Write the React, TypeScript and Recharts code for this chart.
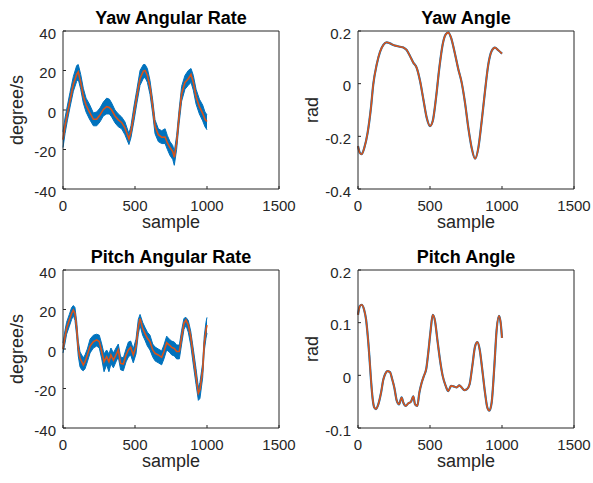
import { ComposedChart, Line, Area, XAxis, YAxis, Label } from "recharts";

// axis ticks
const X_TICKS = [0, 500, 1000, 1500];
const RATE_TICKS = [-40, -20, 0, 20, 40];
const YAW_ANGLE_TICKS = [-0.4, -0.2, 0, 0.2];
const PITCH_ANGLE_TICKS = [-0.1, 0, 0.1, 0.2];

// Yaw angular rate (degree/s): filtered line + raw signal envelope
const yawRateSamples = [0, 14, 30, 49, 72, 95, 106, 123, 141, 160, 183, 211, 234, 257, 280, 303, 322, 338, 361, 384, 407, 430, 458, 472, 493, 512, 535, 558, 570, 586, 604, 623, 639, 662, 685, 709, 725, 743, 762, 773, 789, 806, 824, 847, 870, 889, 905, 924, 947, 970, 986, 1000];
const yawRateFiltered = [-15, -8, -2, 5, 13, 18, 19.3, 14, 7, 2.5, -1, -4.7, -4.7, -2.5, 0.3, 1.7, 1.3, 0, -3, -5, -6.3, -9, -14.7, -11, -1.7, 6.7, 16, 19.7, 20, 17.5, 11.7, 1.7, -8.3, -12.5, -13.8, -13.7, -16.7, -19, -21, -24, -16.7, -3.3, 8.3, 14, 15.8, 18, 14, 6.7, 1.7, -1.7, -4.7, -5.8];
const yawRateRawHigh = [-11, -4, 2, 9, 17, 22.5, 23, 18, 11, 6, 3, -1.5, -1, 1, 4, 6, 5.5, 3.5, 0, -2, -3.5, -6, -12, -8, 2, 10, 20, 23, 23, 21, 15, 5, -5, -9.5, -10.5, -9.5, -13, -16, -18, -21, -13, 0, 12, 17.5, 20, 21, 17.5, 10.5, 5.5, 2.5, -1, -2.5];
const yawRateRawLow = [-19, -12, -5.5, 1.5, 9.5, 14.5, 15.5, 10.5, 3.5, -1, -4.5, -8, -8, -6, -3, -2, -2, -3.5, -6.5, -8.5, -9.5, -12.5, -17.5, -14, -5.5, 3, 12.5, 16, 16.5, 14, 8, -2, -12, -16, -17, -17, -20, -23, -25, -28, -20, -7, 4.5, 10.5, 12.5, 14, 10, 3, -2, -5.5, -8.5, -10];

// Yaw angle (rad)
const yawAngleSamples = [0, 12, 25, 44, 67, 90, 106, 130, 153, 176, 199, 222, 245, 269, 292, 315, 338, 361, 384, 407, 431, 454, 477, 500, 519, 542, 565, 588, 609, 627, 646, 669, 697, 720, 743, 766, 789, 813, 836, 859, 882, 905, 928, 951, 974, 1000];
const yawAngle = [-0.237, -0.262, -0.268, -0.243, -0.186, -0.091, -0.003, 0.073, 0.121, 0.147, 0.157, 0.153, 0.147, 0.143, 0.14, 0.137, 0.128, 0.105, 0.08, 0.061, 0.01, -0.06, -0.129, -0.161, -0.142, -0.053, 0.061, 0.149, 0.187, 0.194, 0.175, 0.124, 0.054, 0.004, -0.072, -0.167, -0.243, -0.285, -0.243, -0.142, -0.028, 0.073, 0.124, 0.137, 0.127, 0.114];

// Pitch angular rate (degree/s)
const pitchRateSamples = [0, 14, 25, 44, 60, 72, 83, 95, 106, 118, 130, 141, 153, 169, 188, 211, 234, 252, 269, 285, 303, 319, 333, 350, 368, 384, 400, 419, 438, 454, 470, 488, 507, 523, 535, 553, 569, 586, 604, 623, 639, 662, 685, 701, 720, 738, 755, 773, 789, 808, 824, 840, 854, 870, 887, 905, 924, 940, 951, 970, 981, 993, 1000];
const pitchRateFiltered = [0, 6.2, 10.5, 14.7, 18, 19.7, 18, 10.5, 0.3, -4.7, -6.4, -8.1, -6.4, -3, 1.5, 3.7, 4.6, 3.7, -1.3, -6.4, -3.9, -6.4, -3, -5.6, -3, -0.5, -7.3, -7.6, -3, -0.5, 0.8, -3, 1.2, 11.3, 15.5, 10.5, 7.9, 5.4, 3.7, -0.5, -2.2, -3, -4.2, -1.3, 3.2, 2, 0.8, 0.3, -1.3, -1.3, 6.2, 13, 14.7, 12.1, 6.2, -3.9, -14, -22.4, -20.7, -10.6, 2.9, 9.6, 12.1];
const pitchRateRawHigh = [3, 9.5, 13.5, 17.5, 21, 22, 21, 14, 4, -1.5, -3, -4.5, -3, 0, 5, 7, 7.5, 7, 2.5, -2.5, -0.5, -2.5, 0.5, -2, 0.5, 2.5, -4, -4.5, 0, 3.5, 4, 0, 5, 15, 17.5, 13.5, 11, 8.5, 7, 2.5, 1, 0, -1, 2, 6.5, 5, 4, 3.5, 2, 2, 9.5, 15.5, 16, 14.5, 9, 0, -10, -19.5, -17, -7, 6.5, 13.5, 16];
const pitchRateRawLow = [-2, 3, 7.5, 11.5, 15, 17, 14.5, 6.5, -3.5, -9, -10.5, -11, -10, -6.5, -2, 0.5, 1.5, 0.5, -5, -11.5, -8, -11.5, -7.5, -9.5, -6.5, -4, -10.5, -11, -6.5, -4, -3, -7, -2.5, 7.5, 12, 7, 4.5, 1.5, -0.5, -4, -6, -7, -8, -5, -0.5, -1.5, -3, -3.5, -5, -5, 2.5, 10, 12, 8.5, 2, -8, -18, -26, -25, -14.5, -1, 5.5, 8];

// Pitch angle (rad)
const pitchAngleSamples = [0, 12, 25, 42, 56, 67, 79, 90, 102, 113, 125, 141, 160, 176, 188, 204, 222, 238, 252, 269, 285, 303, 315, 331, 350, 368, 384, 396, 412, 426, 442, 458, 475, 488, 505, 519, 535, 551, 569, 588, 609, 627, 646, 664, 685, 704, 720, 738, 757, 775, 794, 813, 829, 845, 863, 882, 898, 912, 928, 947, 963, 979, 991, 1000];
const pitchAngle = [0.115, 0.131, 0.134, 0.125, 0.106, 0.077, 0.036, -0.008, -0.045, -0.061, -0.064, -0.055, -0.033, -0.008, 0.002, 0.008, 0.006, -0.008, -0.023, -0.048, -0.055, -0.042, -0.052, -0.058, -0.053, -0.05, -0.04, -0.055, -0.058, -0.033, -0.014, -0.001, 0.014, 0.043, 0.087, 0.115, 0.103, 0.068, 0.03, -0.001, -0.02, -0.03, -0.02, -0.021, -0.023, -0.019, -0.023, -0.028, -0.026, -0.017, 0.018, 0.055, 0.063, 0.049, 0.011, -0.033, -0.061, -0.067, -0.052, 0.018, 0.087, 0.113, 0.099, 0.071];

const BLUE = "#0072BD";
const ORANGE = "#D95319";
const AXIS = "#262626";
const FONT = "'Liberation Sans', Arial, Helvetica, sans-serif";

const W = 296;
const H = 240;
const PLOT_LEFT = 63;
const PLOT_TOP = 31;
const PLOT_W = 216;
const PLOT_H = 158;
const CX = PLOT_LEFT + PLOT_W / 2;

function XTick(props: any) {
    const { x, y, payload } = props;
    return (
        <text x={x} y={y + 22} textAnchor="middle" fontSize={15} fill={AXIS} fontFamily={FONT}>
            {payload.value}
        </text>
    );
}

function YTick(props: any) {
    const { x, y, payload } = props;
    return (
        <text x={x - 7} y={y + 7.5} textAnchor="end" fontSize={15} fill={AXIS} fontFamily={FONT}>
            {payload.value}
        </text>
    );
}

interface PanelProps {
    left: number;
    top: number;
    title: string;
    yLabel: string;
    yDomain: number[];
    yTicks: number[];
    samples: number[];
    values: number[];
    rawLow?: number[];
    rawHigh?: number[];
}

function Panel({ left, top, title, yLabel, yDomain, yTicks, samples, values, rawLow, rawHigh }: PanelProps) {
    const data = samples.map((s, i) => ({
        s,
        v: values[i],
        band: rawLow && rawHigh ? [rawLow[i], rawHigh[i]] : null,
    }));
    const hasBand = !!rawLow;

    return (
        <div style={{ position: "absolute", left, top }}>
            <ComposedChart
                width={W}
                height={H}
                data={data}
                margin={{ top: PLOT_TOP, right: W - PLOT_LEFT - PLOT_W, bottom: 0, left: 0 }}
            >
                <XAxis
                    xAxisId="b"
                    dataKey="s"
                    type="number"
                    domain={[0, 1500]}
                    ticks={X_TICKS}
                    height={H - PLOT_TOP - PLOT_H}
                    tickSize={-3}
                    tickMargin={3}
                    tick={XTick}
                    axisLine={{ stroke: AXIS }}
                    tickLine={{ stroke: AXIS }}
                    interval={0}
                >
                    <Label
                        content={() => (
                            <text x={CX} y={228} textAnchor="middle" fontSize={18} fill={AXIS} fontFamily={FONT}>
                                sample
                            </text>
                        )}
                    />
                </XAxis>
                {/* box: inward ticks on top and right */}
                <XAxis
                    xAxisId="t"
                    orientation="top"
                    mirror
                    dataKey="s"
                    type="number"
                    domain={[0, 1500]}
                    ticks={X_TICKS}
                    height={10}
                    tickSize={3}
                    tick={false}
                    axisLine={{ stroke: AXIS }}
                    tickLine={{ stroke: AXIS }}
                    interval={0}
                />
                <YAxis
                    yAxisId="l"
                    type="number"
                    domain={yDomain}
                    ticks={yTicks}
                    width={PLOT_LEFT}
                    tickSize={-3}
                    tickMargin={3}
                    tick={YTick}
                    axisLine={{ stroke: AXIS }}
                    tickLine={{ stroke: AXIS }}
                    interval={0}
                    allowDataOverflow
                >
                    <Label
                        content={() => (
                            <g>
                                <text x={CX} y={24} textAnchor="middle" fontSize={18} fontWeight="bold" fill="#000" fontFamily={FONT}>
                                    {title}
                                </text>
                                <text
                                    transform={`translate(23, ${PLOT_TOP + PLOT_H / 2}) rotate(-90)`}
                                    textAnchor="middle"
                                    fontSize={18}
                                    fill={AXIS}
                                    fontFamily={FONT}
                                >
                                    {yLabel}
                                </text>
                            </g>
                        )}
                    />
                </YAxis>
                <YAxis
                    yAxisId="r"
                    orientation="right"
                    mirror
                    type="number"
                    domain={yDomain}
                    ticks={yTicks}
                    width={10}
                    tickSize={3}
                    tick={false}
                    axisLine={{ stroke: AXIS }}
                    tickLine={{ stroke: AXIS }}
                    interval={0}
                    allowDataOverflow
                />
                {hasBand ? (
                    <Area
                        xAxisId="b"
                        yAxisId="l"
                        dataKey="band"
                        type="linear"
                        stroke={BLUE}
                        strokeWidth={1}
                        fill={BLUE}
                        fillOpacity={1}
                        isAnimationActive={false}
                        activeDot={false}
                    />
                ) : (
                    <Line
                        xAxisId="b"
                        yAxisId="l"
                        dataKey="v"
                        type="monotone"
                        stroke={BLUE}
                        strokeWidth={2.2}
                        dot={false}
                        activeDot={false}
                        isAnimationActive={false}
                    />
                )}
                <Line
                    xAxisId="b"
                    yAxisId="l"
                    dataKey="v"
                    type={hasBand ? "linear" : "monotone"}
                    stroke={ORANGE}
                    strokeWidth={1.6}
                    dot={false}
                    activeDot={false}
                    isAnimationActive={false}
                />
            </ComposedChart>
        </div>
    );
}

export default function App() {
    return (
        <div
            style={{
                position: "absolute",
                left: 0,
                top: 0,
                width: 593,
                height: 483,
                background: "#fff",
                fontFamily: FONT,
            }}
        >
            <Panel
                left={0}
                top={0}
                title="Yaw Angular Rate"
                yLabel="degree/s"
                yDomain={[-40, 40]}
                yTicks={RATE_TICKS}
                samples={yawRateSamples}
                values={yawRateFiltered}
                rawLow={yawRateRawLow}
                rawHigh={yawRateRawHigh}
            />
            <Panel
                left={295}
                top={0}
                title="Yaw Angle"
                yLabel="rad"
                yDomain={[-0.4, 0.2]}
                yTicks={YAW_ANGLE_TICKS}
                samples={yawAngleSamples}
                values={yawAngle}
            />
            <Panel
                left={0}
                top={239}
                title="Pitch Angular Rate"
                yLabel="degree/s"
                yDomain={[-40, 40]}
                yTicks={RATE_TICKS}
                samples={pitchRateSamples}
                values={pitchRateFiltered}
                rawLow={pitchRateRawLow}
                rawHigh={pitchRateRawHigh}
            />
            <Panel
                left={295}
                top={239}
                title="Pitch Angle"
                yLabel="rad"
                yDomain={[-0.1, 0.2]}
                yTicks={PITCH_ANGLE_TICKS}
                samples={pitchAngleSamples}
                values={pitchAngle}
            />
        </div>
    );
}
